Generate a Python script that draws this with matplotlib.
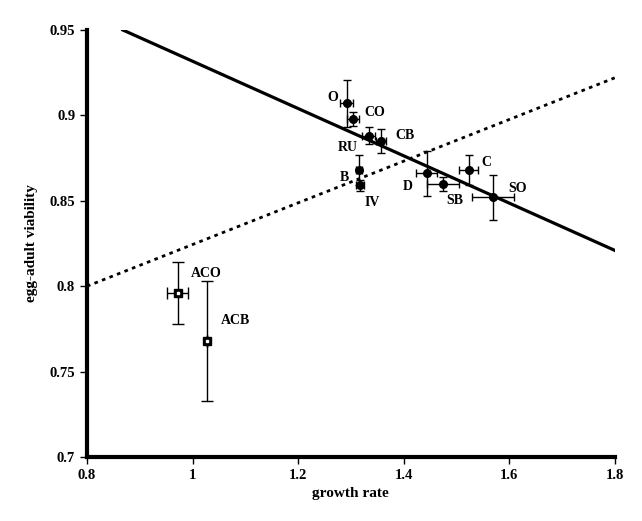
import numpy as np
import matplotlib
matplotlib.use('Agg')
import matplotlib.pyplot as plt

plt.rcParams['font.family'] = 'Liberation Serif'
plt.rcParams['font.weight'] = 'bold'

# populations (round markers)
names = ['O', 'CO', 'RU', 'CB', 'B', 'IV', 'D', 'SB', 'C', 'SO']
growth = [1.292, 1.304, 1.334, 1.357, 1.315, 1.317, 1.444, 1.474, 1.523, 1.569]
viab = [0.907, 0.898, 0.888, 0.885, 0.868, 0.859, 0.866, 0.860, 0.868, 0.852]
g_err = [0.012, 0.012, 0.012, 0.010, 0.006, 0.008, 0.020, 0.030, 0.018, 0.040]
v_err = [0.014, 0.004, 0.005, 0.007, 0.009, 0.003, 0.013, 0.004, 0.009, 0.013]
# label offsets (pixels)
lab_off = [(-14, 6), (22, 6), (-21, -12), (24, 6), (-14, -7), (12, -17),
           (-19, -13), (12, -17), (18, 8), (25, 9)]

# ancestral populations (square markers)
anc_names = ['ACO', 'ACB']
anc_growth = [0.972, 1.027]
anc_viab = [0.796, 0.768]
anc_gerr = [0.02, 0.0]
anc_verr = [0.018, 0.035]
anc_off = [(28, 20), (29, 20)]

# regression lines
solid_x = [0.868, 1.8]
solid_y = [0.95, 0.821]
dot_x = [0.8, 1.8]
dot_y = [0.80, 0.922]

fig = plt.figure(figsize=(6.42, 5.21), dpi=100)
ax = fig.add_axes([0.1355, 0.1228, 0.822, 0.8196])

ax.plot(solid_x, solid_y, color='black', lw=2.3)
ax.plot(dot_x, dot_y, color='black', lw=2, linestyle=(0, (1.3, 1.6)))

ax.errorbar(growth, viab, xerr=g_err, yerr=v_err, fmt='o', color='black',
            ms=5.5, elinewidth=1, capsize=3)
ax.errorbar(anc_growth, anc_viab, xerr=anc_gerr, yerr=anc_verr, fmt='none',
            ecolor='black', elinewidth=1, capsize=4)
ax.plot(anc_growth, anc_viab, 's', color='black', ms=6)
ax.plot(anc_growth, anc_viab, 's', color='white', ms=1.8)

for n, x, y, o in zip(names, growth, viab, lab_off):
    ax.annotate(n, (x, y), xytext=o, textcoords='offset pixels',
                ha='center', va='center', fontsize=10, fontweight='bold')
for n, x, y, o in zip(anc_names, anc_growth, anc_viab, anc_off):
    ax.annotate(n, (x, y), xytext=o, textcoords='offset pixels',
                ha='center', va='center', fontsize=10, fontweight='bold')

ax.set_xlim(0.8, 1.8)
ax.set_ylim(0.7, 0.95)
ax.set_xticks([0.8, 1, 1.2, 1.4, 1.6, 1.8])
ax.set_xticklabels(['0.8', '1', '1.2', '1.4', '1.6', '1.8'])
ax.set_yticks([0.7, 0.75, 0.8, 0.85, 0.9, 0.95])
ax.set_yticklabels(['0.7', '0.75', '0.8', '0.85', '0.9', '0.95'])
ax.tick_params(labelsize=10.5, width=1, length=5)
for s in ['top', 'right']:
    ax.spines[s].set_visible(False)
for s in ['left', 'bottom']:
    ax.spines[s].set_linewidth(3)

ax.set_xlabel('growth rate', fontsize=11, fontweight='bold')
ax.set_ylabel('egg-adult viability', fontsize=11, fontweight='bold', labelpad=8)

plt.savefig('out.png', dpi=100)
